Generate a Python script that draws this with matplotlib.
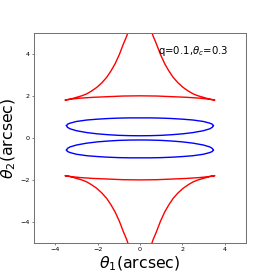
import matplotlib
matplotlib.use('Agg')
import matplotlib.pyplot as plt

# krzywe krytyczne (niebieskie) - gorna i dolna elipsa
ell_x = [-3.47, -3.42, -3.3, -3.0, -2.5, -2.0, -1.5, -1.0, -0.5, 0.0,
         0.5, 1.0, 1.5, 2.0, 2.5, 3.0, 3.3, 3.42, 3.47]
ell_gora_top = [0.58, 0.65, 0.70, 0.78, 0.85, 0.89, 0.92, 0.94, 0.95, 0.95,
                0.95, 0.94, 0.92, 0.89, 0.85, 0.78, 0.70, 0.65, 0.58]
ell_gora_bot = [0.58, 0.50, 0.43, 0.34, 0.25, 0.19, 0.15, 0.12, 0.105, 0.10,
                0.105, 0.12, 0.15, 0.19, 0.25, 0.34, 0.43, 0.50, 0.58]
ell_dol_top = [-0.58, -0.50, -0.43, -0.34, -0.25, -0.19, -0.15, -0.12, -0.105, -0.10,
               -0.105, -0.12, -0.15, -0.19, -0.25, -0.34, -0.43, -0.50, -0.58]
ell_dol_bot = [-0.58, -0.65, -0.70, -0.78, -0.85, -0.89, -0.92, -0.94, -0.95, -0.95,
               -0.95, -0.94, -0.92, -0.89, -0.85, -0.78, -0.70, -0.65, -0.58]

# kaustyki (czerwone)
kau_x = [-0.52, -0.62, -0.78, -0.97, -1.17, -1.37, -1.57, -1.8, -2.04, -2.3,
         -2.52, -2.75, -2.99, -3.3, -3.54,
         -3.2, -2.8, -2.2, -1.5, -0.8, 0.0, 0.8, 1.5, 2.2, 2.8, 3.2,
         3.54, 3.3, 2.99, 2.75, 2.52, 2.3, 2.04, 1.8, 1.57, 1.37, 1.17,
         0.97, 0.78, 0.62, 0.52]
kau_gora_y = [5.15, 4.85, 4.47, 3.97, 3.53, 3.18, 2.88, 2.62, 2.40, 2.22,
              2.09, 2.00, 1.93, 1.84, 1.80,
              1.85, 1.89, 1.93, 1.96, 1.99, 2.00, 1.99, 1.96, 1.93, 1.89, 1.85,
              1.80, 1.84, 1.93, 2.00, 2.09, 2.22, 2.40, 2.62, 2.88, 3.18, 3.53,
              3.97, 4.47, 4.85, 5.15]
kau_dol_y = [-5.15, -4.85, -4.47, -3.97, -3.53, -3.18, -2.88, -2.62, -2.40, -2.22,
             -2.09, -2.00, -1.93, -1.84, -1.80,
             -1.85, -1.89, -1.93, -1.96, -1.99, -2.00, -1.99, -1.96, -1.93, -1.89, -1.85,
             -1.80, -1.84, -1.93, -2.00, -2.09, -2.22, -2.40, -2.62, -2.88, -3.18, -3.53,
             -3.97, -4.47, -4.85, -5.15]

plt.figure(figsize=(6, 6), dpi=45.5)
plt.plot(ell_x, ell_gora_top, color='b', lw=2.2)
plt.plot(ell_x, ell_gora_bot, color='b', lw=2.2)
plt.plot(ell_x, ell_dol_top, color='b', lw=2.2)
plt.plot(ell_x, ell_dol_bot, color='b', lw=2.2)
plt.plot(kau_x, kau_gora_y, color='r', lw=2.2)
plt.plot(kau_x, kau_dol_y, color='r', lw=2.2)
plt.xlim(-5, 5)
plt.ylim(-5, 5)
plt.xticks([-4, -2, 0, 2, 4])
plt.yticks([-4, -2, 0, 2, 4])
ax = plt.gca()
for s in ax.spines.values():
    s.set_linewidth(1.6)
    s.set_color('0.45')
ax.tick_params(width=1.4, color='0.45')
plt.text(0.85, 4.0, r'q=0.1,$\theta_c$=0.3', fontsize=16)
plt.xlabel(r'$\theta_1$(arcsec)', fontsize=25)
plt.ylabel(r'$\theta_2$(arcsec)', fontsize=25)
plt.savefig('out.png', dpi=45.5)
